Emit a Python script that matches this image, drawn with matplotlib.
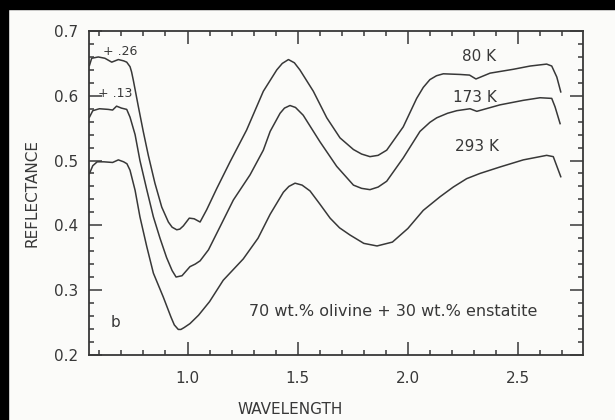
# reflectance spectra of olivine/enstatite mixture at three temperatures
import matplotlib
matplotlib.use("Agg")
import matplotlib.pyplot as plt
from matplotlib.ticker import MultipleLocator, FormatStrFormatter
from matplotlib.patches import Rectangle

# 80 K spectrum (offset +.26)
wl_80 = [0.555, 0.565, 0.595, 0.625, 0.656, 0.686, 0.710, 0.724, 0.739, 0.746,
         0.754, 0.777, 0.799, 0.822, 0.852, 0.883, 0.913, 0.930, 0.951, 0.965,
         0.981, 1.008, 1.030, 1.057, 1.087, 1.133, 1.193, 1.268, 1.344, 1.405,
         1.430, 1.458, 1.485, 1.510, 1.571, 1.632, 1.692, 1.753, 1.790, 1.828,
         1.865, 1.904, 1.979, 2.040, 2.070, 2.100, 2.130, 2.161, 2.236, 2.280,
         2.309, 2.373, 2.479, 2.555, 2.630, 2.653, 2.676, 2.694]
refl_80 = [0.647, 0.658, 0.660, 0.658, 0.652, 0.656, 0.654, 0.652, 0.645, 0.637,
           0.624, 0.583, 0.545, 0.508, 0.465, 0.428, 0.405, 0.397, 0.393, 0.394,
           0.399, 0.411, 0.410, 0.405, 0.424, 0.457, 0.498, 0.547, 0.607, 0.640,
           0.650, 0.656, 0.651, 0.640, 0.607, 0.566, 0.535, 0.517, 0.510, 0.506,
           0.508, 0.516, 0.552, 0.596, 0.613, 0.625, 0.631, 0.634, 0.633, 0.632,
           0.626, 0.635, 0.641, 0.646, 0.649, 0.646, 0.629, 0.606]

# 173 K spectrum (offset +.13)
wl_173 = [0.555, 0.570, 0.600, 0.640, 0.660, 0.678, 0.700, 0.724, 0.739, 0.762,
          0.784, 0.815, 0.845, 0.875, 0.905, 0.930, 0.948, 0.975, 1.011, 1.035,
          1.057, 1.095, 1.148, 1.208, 1.284, 1.344, 1.375, 1.420, 1.440, 1.465,
          1.490, 1.525, 1.601, 1.677, 1.753, 1.790, 1.828, 1.865, 1.904, 1.979,
          2.055, 2.100, 2.131, 2.180, 2.222, 2.282, 2.313, 2.418, 2.524, 2.600,
          2.653, 2.668, 2.691]
refl_173 = [0.567, 0.577, 0.580, 0.579, 0.578, 0.584, 0.581, 0.579, 0.567, 0.540,
            0.500, 0.455, 0.413, 0.380, 0.350, 0.330, 0.320, 0.322, 0.336, 0.340,
            0.345, 0.362, 0.398, 0.439, 0.478, 0.516, 0.545, 0.573, 0.581, 0.585,
            0.582, 0.570, 0.529, 0.491, 0.462, 0.457, 0.455, 0.459, 0.468, 0.504,
            0.545, 0.559, 0.566, 0.573, 0.577, 0.580, 0.576, 0.586, 0.593, 0.597,
            0.596, 0.583, 0.557]

# 293 K spectrum
wl_293 = [0.555, 0.570, 0.590, 0.620, 0.660, 0.686, 0.710, 0.725, 0.739, 0.762,
          0.784, 0.815, 0.845, 0.890, 0.925, 0.940, 0.958, 0.970, 0.985, 1.011,
          1.050, 1.100, 1.162, 1.253, 1.320, 1.375, 1.435, 1.460, 1.488, 1.520,
          1.556, 1.600, 1.647, 1.690, 1.737, 1.800, 1.860, 1.930, 2.000, 2.070,
          2.146, 2.206, 2.267, 2.327, 2.418, 2.524, 2.630, 2.660, 2.694]
refl_293 = [0.480, 0.492, 0.498, 0.498, 0.497, 0.501, 0.498, 0.495, 0.485, 0.454,
            0.413, 0.367, 0.326, 0.289, 0.258, 0.246, 0.239, 0.239, 0.242, 0.248,
            0.261, 0.282, 0.315, 0.348, 0.380, 0.417, 0.451, 0.460, 0.465, 0.462,
            0.453, 0.433, 0.411, 0.396, 0.385, 0.372, 0.368, 0.374, 0.395, 0.423,
            0.444, 0.459, 0.472, 0.480, 0.490, 0.501, 0.508, 0.506, 0.475]

temp_labels = ["80 K", "173 K", "293 K"]
offset_labels = ["+ .26", "+ .13"]

ink = "#383838"

fig = plt.figure(figsize=(6.15, 4.2), dpi=100)
fig.patch.set_facecolor("#fbfbf9")
ax = fig.add_axes([0.1455, 0.1555, 0.8025, 0.7705])
ax.set_facecolor("#fbfbf9")

# dark scanner edges
fig.add_artist(Rectangle((0, 1 - 9 / 420), 1, 9 / 420, transform=fig.transFigure,
                         color="black", zorder=10))
fig.add_artist(Rectangle((0, 0), 8 / 615, 1, transform=fig.transFigure,
                         color="black", zorder=10))

for wl, refl in [(wl_80, refl_80), (wl_173, refl_173), (wl_293, refl_293)]:
    ax.plot(wl, refl, color=ink, lw=1.1, solid_joinstyle="round")

ax.set_xlim(0.555, 2.795)
ax.set_ylim(0.2, 0.7)

ax.xaxis.set_major_locator(MultipleLocator(0.5))
ax.xaxis.set_minor_locator(MultipleLocator(0.1))
ax.yaxis.set_major_locator(MultipleLocator(0.1))
ax.yaxis.set_minor_locator(MultipleLocator(0.02))
ax.xaxis.set_major_formatter(FormatStrFormatter("%.1f"))
ax.yaxis.set_major_formatter(FormatStrFormatter("%.1f"))

ax.tick_params(which="both", direction="in", top=True, right=True,
               colors=ink, width=1.1, labelsize=11)
ax.tick_params(which="major", length=9.5)
ax.tick_params(which="minor", length=3.3)
ax.tick_params(axis="x", pad=12)
ax.tick_params(axis="y", pad=8)
for sp in ax.spines.values():
    sp.set_color(ink)
    sp.set_linewidth(1.3)

# axis titles
ax.text(0.406, -0.168, "WAVELENGTH", transform=ax.transAxes, ha="center",
        va="center", fontsize=11, color=ink)
ax.text(-0.117, 0.5, "REFLECTANCE", transform=ax.transAxes, ha="center",
        va="center", rotation=90, fontsize=11, color=ink)

# curve labels
ax.text(2.40, 0.660, temp_labels[0], ha="right", va="center", fontsize=11, color=ink)
ax.text(2.405, 0.598, temp_labels[1], ha="right", va="center", fontsize=11, color=ink)
ax.text(2.414, 0.521, temp_labels[2], ha="right", va="center", fontsize=11, color=ink)

ax.text(0.616, 0.668, offset_labels[0], ha="left", va="center", fontsize=9, color=ink)
ax.text(0.594, 0.604, offset_labels[1], ha="left", va="center", fontsize=9, color=ink)

ax.text(0.675, 0.25, "b", ha="center", va="center", fontsize=11, color=ink)
ax.text(1.935, 0.267, "70 wt.% olivine + 30 wt.% enstatite", ha="center",
        va="center", fontsize=11.5, color=ink)

plt.savefig("out.png", dpi=100, facecolor=fig.get_facecolor())
